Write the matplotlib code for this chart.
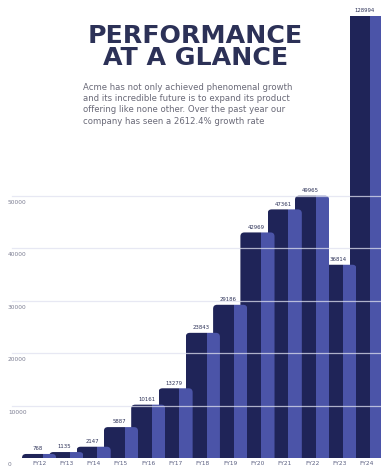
import matplotlib
matplotlib.use("Agg")
import matplotlib.pyplot as plt
import matplotlib.transforms as mtransforms
from matplotlib.patches import FancyBboxPatch, Rectangle

years = ["FY12", "FY13", "FY14", "FY15", "FY16", "FY17", "FY18",
         "FY19", "FY20", "FY21", "FY22", "FY23", "FY24"]
revenue = [768, 1135, 2147, 5887, 10161, 13279, 23843,
           29186, 42969, 47361, 49965, 36814, 128994]
grid_ticks = [10000, 20000, 30000, 40000, 50000]

title = "PERFORMANCE\nAT A GLANCE"
blurb = ("Acme has not only achieved phenomenal growth\n"
         "and its incredible future is to expand its product\n"
         "offering like none other. Over the past year our\n"
         "company has seen a 2612.4% growth rate")

DARK = "#1f2458"
LIGHT = "#4b54a8"
INK = "#2c3157"

W, W_DARK = 1.25, 0.76   # bar width and dark share, in x units
Y_TOP = 84200

fig = plt.figure(figsize=(3.81, 4.71), dpi=100)
ax = fig.add_axes([0, 13 / 471, 1, 442 / 471])
ax.set_xlim(-22 / 27.3, 381 / 27.3 - 22 / 27.3)
ax.set_ylim(0, Y_TOP)
for s in ax.spines.values():
    s.set_visible(False)

# data units per pixel, so the corner rounding looks round on screen
fig.canvas.draw()
bb = ax.get_window_extent()
x0, x1 = ax.get_xlim()
y0, y1 = ax.get_ylim()
aspect = ((y1 - y0) / bb.height) / ((x1 - x0) / bb.width)
r = 4 / (bb.width / (x1 - x0))

for i, v in enumerate(revenue):
    z = 2.0 - i * 0.05
    h = min(v, Y_TOP * 1.05)
    base = -r * aspect
    for color, cx, cw, dz in [(LIGHT, i + W_DARK, W - W_DARK, 0),
                              (DARK, i, W_DARK, 0.01)]:
        p = FancyBboxPatch((i, base), W, h - base,
                           boxstyle=f"round,pad=0,rounding_size={r}",
                           mutation_aspect=aspect, facecolor=color,
                           edgecolor="none", zorder=z + dz)
        clip = Rectangle((cx, 0), cw, Y_TOP, transform=ax.transData)
        ax.add_patch(p)
        p.set_clip_path(clip)
    ax.annotate(f"{v}", xy=(i + W * 0.45, min(v, Y_TOP)),
                xytext=(0, 2), textcoords="offset points", ha="center",
                va="bottom", fontsize=3.9, color=INK, annotation_clip=False)

trans = mtransforms.blended_transform_factory(ax.transAxes, ax.transData)
for t in grid_ticks:
    ax.axhline(t, xmin=12 / 381, color="#dfe1f0", lw=0.9, alpha=0.75,
               zorder=3)
    ax.annotate(f"{t}", xy=(8 / 381, t), xycoords=trans, xytext=(0, -3),
                textcoords="offset points", ha="left", va="top",
                fontsize=4.2, color="#7c7e92")
ax.annotate("0", xy=(8 / 381, 0), xycoords=trans, xytext=(0, -3),
            textcoords="offset points", ha="left", va="top",
            fontsize=4.2, color="#7c7e92", annotation_clip=False)

ax.set_yticks([])
ax.set_xticks([i + W / 2 for i in range(len(years))])
ax.set_xticklabels(years, fontsize=4.2, color="#5a5f80")
ax.tick_params(axis="x", length=0, pad=2)

fig.text(0.512, 1 - 47 / 471, title, ha="center", va="center",
         fontsize=18.2, weight="bold", color=INK, linespacing=0.9)
fig.text(83 / 381, 1 - 83 / 471, blurb, ha="left", va="top",
         fontsize=6.1, color="#6a6a78", linespacing=1.32)

fig.savefig("out.png", dpi=100)
